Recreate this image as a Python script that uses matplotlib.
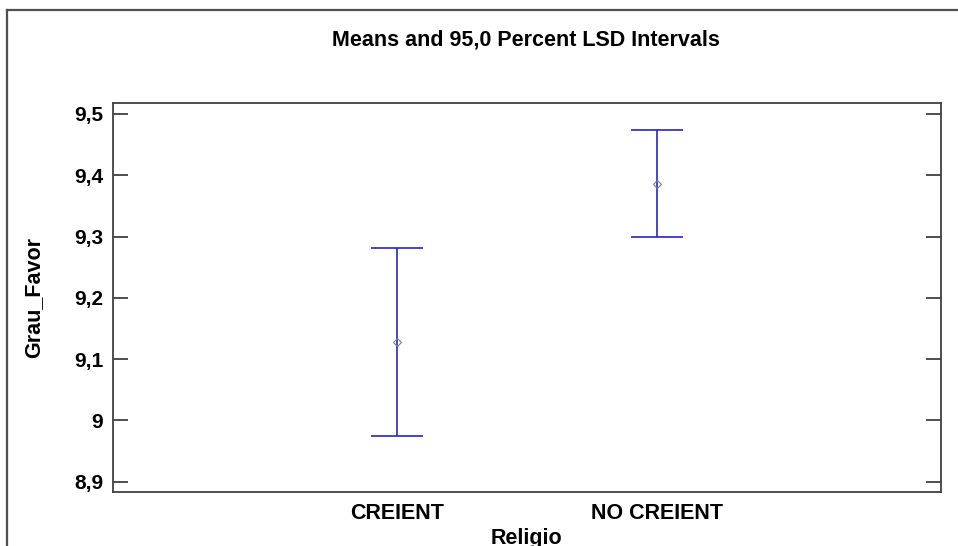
import matplotlib
matplotlib.use("Agg")
import matplotlib.pyplot as plt
from matplotlib.lines import Line2D
from matplotlib.ticker import FuncFormatter, MultipleLocator

groups = ["CREIENT", "NO CREIENT"]
means = [9.128, 9.386]
lower = [8.975, 9.299]
upper = [9.282, 9.474]

plt.rcParams['font.family'] = ['Liberation Sans', 'DejaVu Sans']
plt.rcParams['font.weight'] = 'bold'

fig = plt.figure(figsize=(9.58, 5.46), dpi=100)
ax = fig.add_axes([0.118, 0.0989, 0.864, 0.712])

xs = [1, 2]
err = [[m - lo for m, lo in zip(means, lower)], [hi - m for m, hi in zip(means, upper)]]
ax.errorbar(xs, means, yerr=err, fmt='none', ecolor='#2424c8', elinewidth=1.2,
            capsize=18.7, capthick=1.2)
ax.plot(xs, means, linestyle='none', marker='D', markersize=4.5,
        markerfacecolor='none', markeredgecolor='#808080', markeredgewidth=0.8)

ax.set_xlim(-0.09, 3.09)
ax.set_ylim(8.883, 9.5175)
ax.set_xticks(xs)
ax.set_xticklabels(groups, fontsize=15.5, fontweight='bold')
ax.yaxis.set_major_locator(MultipleLocator(0.1))
ax.yaxis.set_major_formatter(FuncFormatter(lambda v, p: f"{round(v, 1):g}".replace('.', ',')))
ax.tick_params(axis='y', direction='in', length=11, width=1.3, color='#404040',
               left=True, right=True, labelsize=15, pad=7)
ax.tick_params(axis='x', length=0, pad=8, labelsize=15.5)
for lab in ax.get_yticklabels():
    lab.set_fontweight('bold')

for s in ax.spines.values():
    s.set_color('#404040')
    s.set_linewidth(1.3)

ax.set_ylabel("Grau_Favor", fontsize=15.5, fontweight='bold')
ax.yaxis.set_label_coords(-0.083, 0.5)
ax.set_xlabel("Religio", fontsize=15.5, fontweight='bold')
ax.xaxis.set_label_coords(0.5, -0.093)

fig.text(0.5486, 0.927, "Means and 95,0 Percent LSD Intervals", ha='center', va='center',
         fontsize=15.5, fontweight='bold')

# outer frame (top and left edges)
fig.add_artist(Line2D([7 / 958, 7 / 958], [0, 1 - 10 / 546], transform=fig.transFigure,
                      color='#505050', linewidth=1.6))
fig.add_artist(Line2D([7 / 958, 1], [1 - 10 / 546, 1 - 10 / 546], transform=fig.transFigure,
                      color='#505050', linewidth=1.6))

fig.savefig("out.png", dpi=100)
